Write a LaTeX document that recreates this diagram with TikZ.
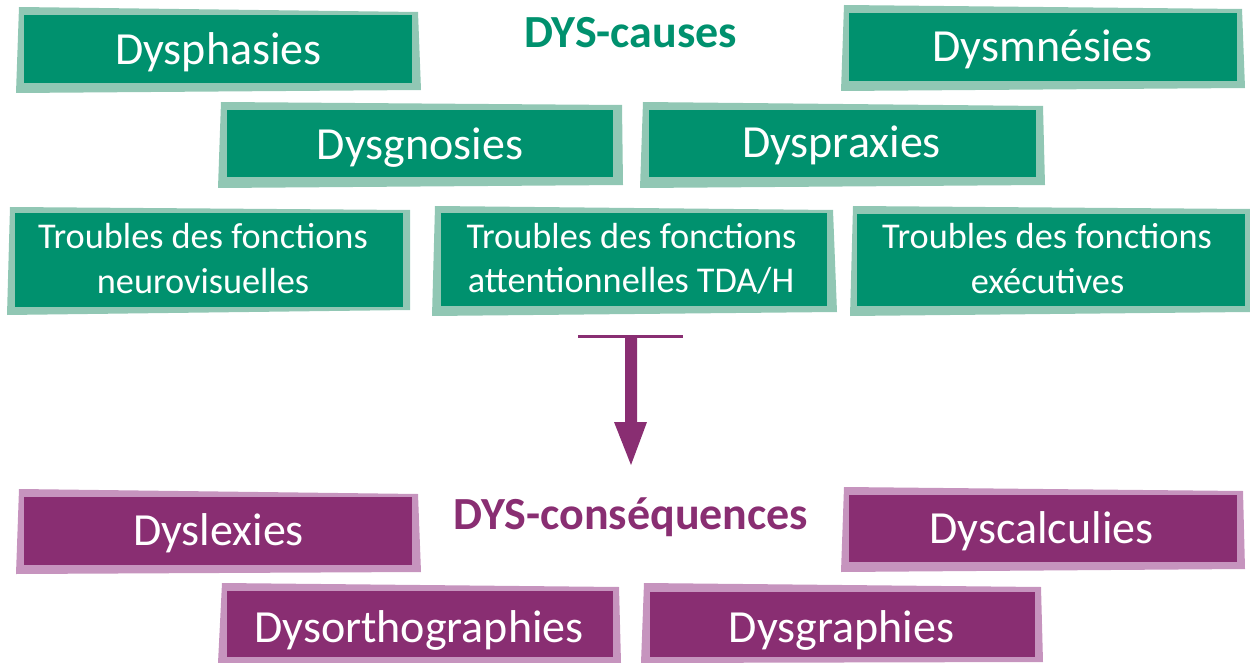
\documentclass[tikz,border=0pt]{standalone}
\usepackage{fontspec}
\setmainfont{Carlito}
\definecolor{dkg}{RGB}{0,145,110}
\definecolor{ltg}{RGB}{145,199,180}
\definecolor{dkp}{RGB}{137,46,114}
\definecolor{ltp}{RGB}{198,148,190}
\tikzset{
  gframe/.style={fill=ltg},
  pframe/.style={fill=ltp},
  ginner/.style={fill=dkg, draw=none, inner sep=0pt, anchor=north west},
  pinner/.style={fill=dkp, draw=none, inner sep=0pt, anchor=north west},
  biglbl/.style={anchor=base, text=white, inner sep=0pt, font=\fontsize{46}{55}\selectfont},
  smlbl/.style={anchor=base, text=white, inner sep=0pt, font=\fontsize{36.3}{44}\selectfont},
  title/.style={anchor=base, inner sep=0pt, font=\fontsize{46}{55}\selectfont\bfseries}
}
\begin{document}
\begin{tikzpicture}[x=1pt,y=-1pt]
\useasboundingbox (0,0) rectangle (1250,663);
% ---------- causes ----------
% Dysphasies
\fill[gframe] (19,7)--(418,12)--(421,90)--(16,93)--cycle;
\node[ginner, minimum width=388pt, minimum height=68pt] (dysphasies) at (24,15) {};
\node[biglbl] (l-dysphasies) at (218.5,65) {Dysphasies};
% Dysmnesies
\fill[gframe] (844,5)--(1242,9)--(1245,88)--(841,91)--cycle;
\node[ginner, minimum width=388pt, minimum height=68pt] (dysmnesies) at (849,13) {};
\node[biglbl] (l-dysmnesies) at (1042.5,62) {Dysmnésies};
% Dysgnosies
\fill[gframe] (221,102)--(622,105)--(623,185)--(218,188)--cycle;
\node[ginner, minimum width=386pt, minimum height=67pt] (dysgnosies) at (227,110) {};
\node[biglbl] (l-dysgnosies) at (420,160) {Dysgnosies};
% Dyspraxies
\fill[gframe] (643,102)--(1043,106)--(1045,185)--(640,188)--cycle;
\node[ginner, minimum width=387pt, minimum height=67pt] (dyspraxies) at (649,110) {};
\node[biglbl] (l-dyspraxies) at (841.5,158) {Dyspraxies};
% Troubles neurovisuelles
\fill[gframe] (10,207)--(410,210)--(410,310)--(7,315)--cycle;
\node[ginner, minimum width=388pt, minimum height=94pt] (neuro) at (15,213) {};
\node[smlbl] (l-neuro1) at (203,248) {Troubles des fonctions};
\node[smlbl] (l-neuro2) at (203,293) {neurovisuelles};
% Troubles attentionnelles
\fill[gframe] (435,206)--(833,210)--(837,312)--(432,316)--cycle;
\node[ginner, minimum width=386pt, minimum height=93pt] (attent) at (441,213) {};
\node[smlbl] (l-attent1) at (631.5,248) {Troubles des fonctions};
\node[smlbl] (l-attent2) at (631,292) {attentionnelles TDA/H};
% Troubles executives
\fill[gframe] (853,206)--(1250,209)--(1250,312)--(850,316)--cycle;
\node[ginner, minimum width=388pt, minimum height=92pt] (exec) at (857,214) {};
\node[smlbl] (l-exec1) at (1047,248) {Troubles des fonctions};
\node[smlbl] (l-exec2) at (1047.5,293) {exécutives};
% title
\node[title, text=dkg] (causes) at (630.5,48) {DYS-causes};
% ---------- arrow ----------
\coordinate (barL) at (578,336);
\coordinate (barR) at (683,336);
\coordinate (shaftTL) at (625,336);
\coordinate (shaftTR) at (637,336);
\coordinate (shaftBR) at (637,422);
\coordinate (headR) at (647,422);
\coordinate (tip) at (631,465);
\coordinate (headL) at (614,422);
\coordinate (shaftBL) at (625,422);
\draw[dkp, line width=3pt] (barL) -- (barR);
\fill[dkp] (shaftTL) -- (shaftTR) -- (shaftBR) -- (headR) -- (tip)
  -- (headL) -- (shaftBL) -- cycle;
% ---------- consequences ----------
\node[title, text=dkp] (consequences) at (631,529) {DYS-conséquences};
% Dyslexies
\fill[pframe] (19,489)--(418,494)--(421,572)--(16,574)--cycle;
\node[pinner, minimum width=388pt, minimum height=68pt] (dyslexies) at (24,497) {};
\node[biglbl] (l-dyslexies) at (218.5,545) {Dyslexies};
% Dyscalculies
\fill[pframe] (844,487)--(1243,491)--(1245,569)--(841,572)--cycle;
\node[pinner, minimum width=388pt, minimum height=67pt] (dyscalculies) at (849,495) {};
\node[biglbl] (l-dyscalculies) at (1041.5,543) {Dyscalculies};
% Dysorthographies
\fill[pframe] (222,583)--(619,587)--(621,663)--(218,663)--cycle;
\node[pinner, minimum width=386pt, minimum height=66pt] (dysortho) at (227,591) {};
\node[biglbl] (l-dysortho) at (419,642) {Dysorthographies};
% Dysgraphies
\fill[pframe] (644,583)--(1041,587)--(1043,662)--(641,663)--cycle;
\node[pinner, minimum width=385pt, minimum height=65pt] (dysgraphies) at (650,592) {};
\node[biglbl] (l-dysgraphies) at (841.5,642) {Dysgraphies};
\end{tikzpicture}
\end{document}
